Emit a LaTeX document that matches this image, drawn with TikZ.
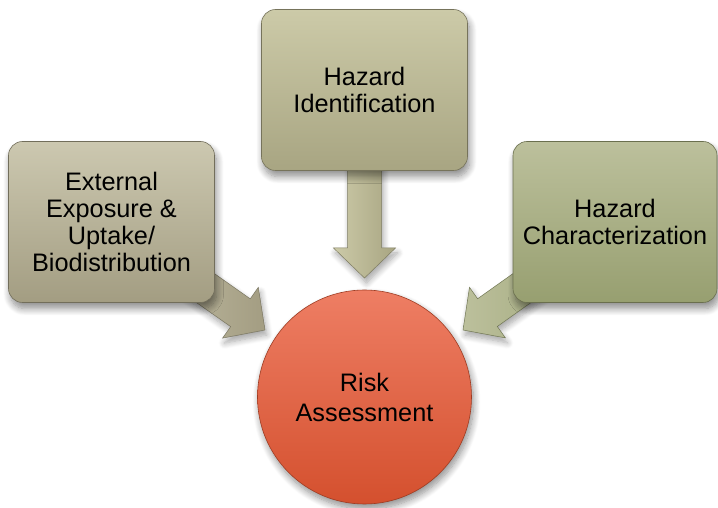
\documentclass[tikz,border=0pt]{standalone}
\usepackage{fontspec}
\setmainfont{Liberation Sans}
\usetikzlibrary{calc,shadows.blur}
\pgfdeclarelayer{bg}
\pgfsetlayers{bg,main}
\definecolor{lboxT}{HTML}{CCC8B0}
\definecolor{lboxB}{HTML}{A39D82}
\definecolor{tboxT}{HTML}{CCCAA8}
\definecolor{tboxB}{HTML}{A8A582}
\definecolor{rboxT}{HTML}{BCC09C}
\definecolor{rboxB}{HTML}{979F70}
\definecolor{circT}{HTML}{EE7E64}
\definecolor{circB}{HTML}{D4502E}
\newcommand\blockarrow[4]{%
  \coordinate (hb) at ($(#2)!30pt!(#1)$);
  \path[arrowstyle, left color=#3, right color=#4, draw=#4!75!black]
    ($(#1)!17pt!90:(#2)$) -- ($(hb)!17pt!90:(#2)$) -- ($(hb)!31pt!90:(#2)$) -- (#2)
    -- ($(hb)!31pt!-90:(#2)$) -- ($(hb)!17pt!-90:(#2)$) -- ($(#1)!17pt!-90:(#2)$) -- cycle;
}
\begin{document}
\begin{tikzpicture}[x=1pt,y=1pt,
  boxstyle/.style={rectangle, rounded corners=14pt, minimum width=206pt, minimum height=161pt,
    align=center, font=\fontsize{25.3}{27}\selectfont, line width=0.6pt,
    blur shadow={shadow xshift=2pt, shadow yshift=-6pt, shadow blur radius=7pt, shadow blur steps=10, shadow opacity=45}},
  arrowstyle/.style={line width=0.5pt, line join=miter,
    blur shadow={shadow xshift=2pt, shadow yshift=-5pt, shadow blur radius=6pt, shadow blur steps=8, shadow opacity=35}},
]
\useasboundingbox (0,0) rectangle (718,508);
\node[boxstyle, top color=lboxT, bottom color=lboxB, draw=lboxB!70!black] (ext) at (111.5,286)
  {External\\Exposure \&\\Uptake/\\Biodistribution};
\node[boxstyle, top color=tboxT, bottom color=tboxB, draw=tboxB!70!black] (hid) at (364.5,418)
  {Hazard\\Identification};
\node[boxstyle, minimum width=204pt, top color=rboxT, bottom color=rboxB, draw=rboxB!70!black] (hch) at (615,286)
  {Hazard\\Characterization};
\node[circle, minimum size=214pt, inner sep=0pt, align=center, font=\fontsize{25.3}{30}\selectfont,
  top color=circT, bottom color=circB, draw=circB!75!black, line width=0.6pt,
  blur shadow={shadow xshift=2pt, shadow yshift=-5pt, shadow blur radius=7pt, shadow blur steps=10, shadow opacity=45}]
  (risk) at (364.5,111) {Risk\\Assessment};
\coordinate (tipT) at (364.5,230);
\coordinate (tipL) at (265,178);
\coordinate (tipR) at (463,178);
\begin{pgfonlayer}{bg}
  \blockarrow{hid.center}{tipT}{tboxT}{tboxB}
  \blockarrow{ext.center}{tipL}{lboxT}{lboxB}
  \blockarrow{hch.center}{tipR}{rboxT}{rboxB}
\end{pgfonlayer}
\end{tikzpicture}
\end{document}
